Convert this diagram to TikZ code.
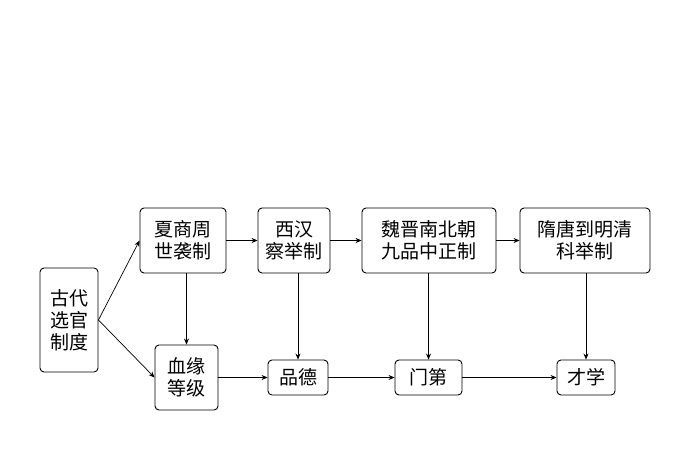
\documentclass[tikz,border=0pt]{standalone}
\usepackage{fontspec}
\setmainfont{Noto Sans CJK SC}
\usetikzlibrary{arrows.meta}
\begin{document}
\begin{tikzpicture}[x=1pt,y=-1pt,
  bx/.style={draw,line width=0.9pt,rounded corners=4pt,align=center,inner sep=2pt,font=\fontsize{19}{22}\selectfont},
  ar/.style={-{Stealth[length=6pt,width=5pt]},line width=0.7pt}]
\useasboundingbox (0,0) rectangle (700,470);
\node[bx,minimum width=58pt,minimum height=104pt] (g) at (69,320) {古代\\选官\\制度};
\node[bx,minimum width=86pt,minimum height=65pt] (x) at (183,240.5) {夏商周\\世袭制};
\node[bx,minimum width=72pt,minimum height=65pt] (h) at (294,240.5) {西汉\\察举制};
\node[bx,minimum width=134pt,minimum height=65pt] (w) at (429,240.5) {魏晋南北朝\\九品中正制};
\node[bx,minimum width=130pt,minimum height=65pt] (s) at (585,240.5) {隋唐到明清\\科举制};
\node[bx,minimum width=63pt,minimum height=65pt] (xy) at (186.5,377.5) {血缘\\等级};
\node[bx,minimum width=60pt,minimum height=35pt] (p) at (298,377.5) {品德};
\node[bx,minimum width=67pt,minimum height=35pt] (m) at (428.5,377.5) {门第};
\node[bx,minimum width=58pt,minimum height=35pt] (c) at (586,377.5) {才学};
\draw[ar] (g.east) -- (x.west);
\draw[ar] (g.east) -- (xy.west);
\draw[ar] (x) -- (h);
\draw[ar] (h) -- (w);
\draw[ar] (w) -- (s);
\draw[ar] (x.south -| xy) -- (xy.north);
\draw[ar] (h.south -| p) -- (p.north);
\draw[ar] (w.south -| m) -- (m.north);
\draw[ar] (s.south -| c) -- (c.north);
\draw[ar] (xy) -- (p);
\draw[ar] (p) -- (m);
\draw[ar] (m) -- (c);
\end{tikzpicture}
\end{document}
